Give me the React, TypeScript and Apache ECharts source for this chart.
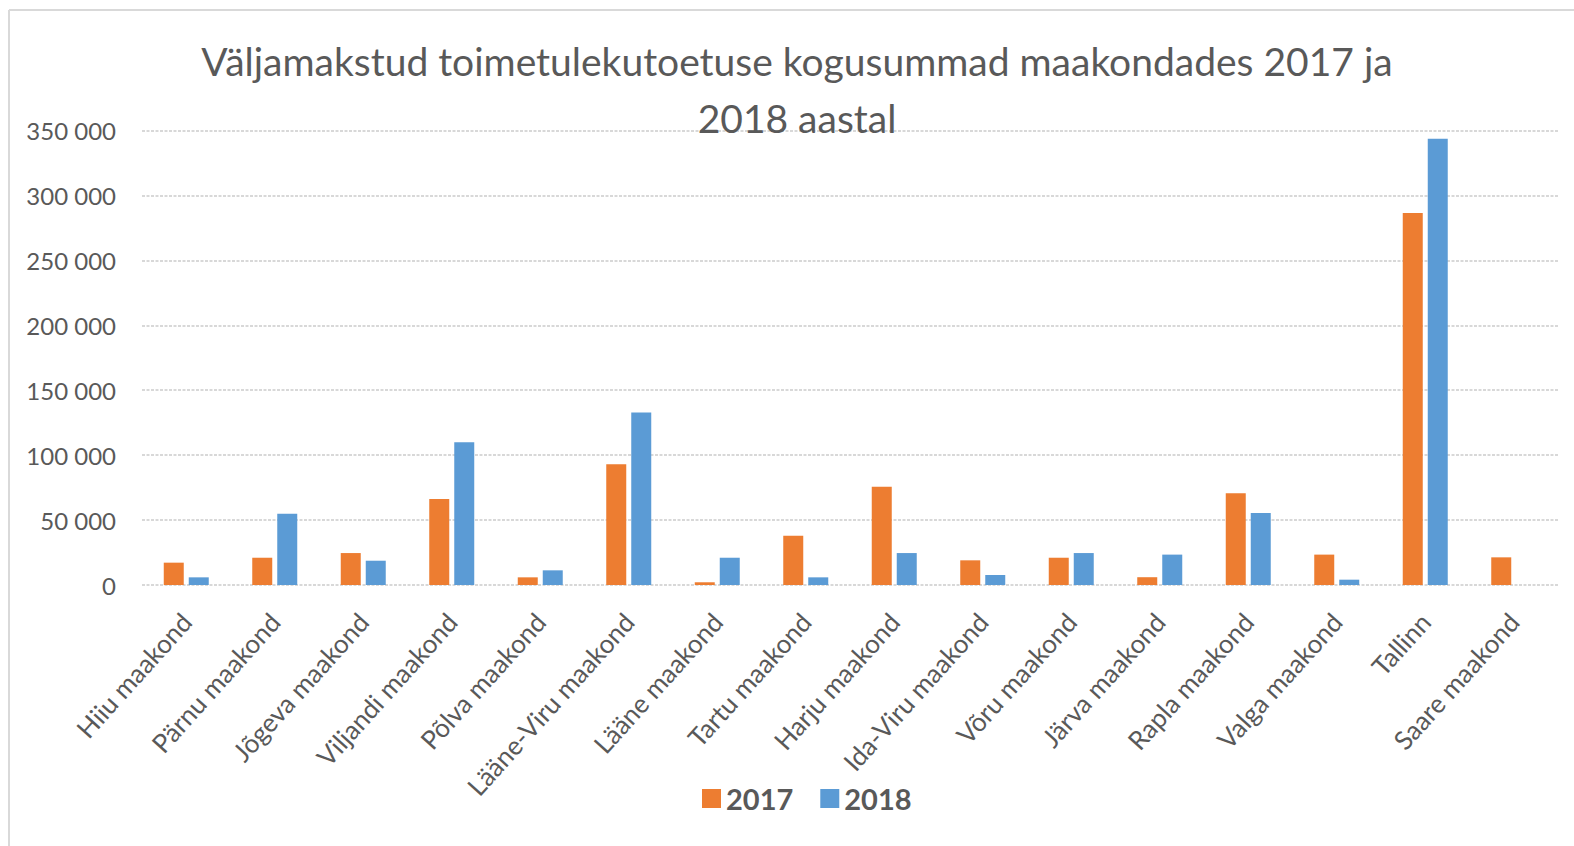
import React, { useEffect, useRef } from "react";
import * as echarts from "echarts";

const titleLines = [
  "Väljamakstud toimetulekutoetuse kogusummad maakondades 2017 ja",
  "2018 aastal",
];

const categories = [
  "Hiiu maakond",
  "Pärnu maakond",
  "Jõgeva maakond",
  "Viljandi maakond",
  "Põlva maakond",
  "Lääne-Viru maakond",
  "Lääne maakond",
  "Tartu maakond",
  "Harju maakond",
  "Ida-Viru maakond",
  "Võru maakond",
  "Järva maakond",
  "Rapla maakond",
  "Valga maakond",
  "Tallinn",
  "Saare maakond",
];

const values2017 = [
  17200, 21000, 24600, 66200, 5900, 92900, 2100, 38000, 75700, 19000, 21000,
  6000, 70600, 23400, 286500, 21300,
];

const values2018 = [
  5900, 54900, 18700, 109900, 11300, 132800, 21000, 5900, 24600, 7700, 24600,
  23400, 55400, 4100, 343700, null,
];

const seriesNames = ["2017", "2018"];
const seriesColors = ["#ED7D31", "#5B9BD5"];

const yMin = 0;
const yMax = 350000;
const yInterval = 50000;

const FONT = "Lato, 'Open Sans', 'Noto Sans', sans-serif";
const TEXT_COLOR = "#595959";

function fmt(v: number): string {
  return String(v).replace(/\B(?=(\d{3})+(?!\d))/g, " ");
}

export default function App() {
  const ref = useRef<HTMLDivElement>(null);

  useEffect(() => {
    if (!ref.current) return;
    const chart = echarts.init(ref.current, null, { renderer: "svg" });
    chart.setOption({
      animation: false,
      backgroundColor: "#ffffff",
      title: {
        text: titleLines.join("\n"),
        left: 797,
        textAlign: "center",
        top: 32,
        padding: 0,
        textStyle: {
          fontFamily: FONT,
          fontSize: 39,
          fontWeight: "normal",
          color: TEXT_COLOR,
          lineHeight: 57,
        },
      },
      legend: {
        left: 697,
        top: 779,
        itemWidth: 19,
        itemHeight: 19,
        itemGap: 27,
        icon: "rect",
        data: seriesNames,
        textStyle: {
          fontFamily: FONT,
          fontSize: 29,
          fontWeight: "bold",
          color: TEXT_COLOR,
        },
      },
      grid: {
        left: 142,
        right: 16,
        top: 130.5,
        bottom: 261,
        containLabel: false,
      },
      xAxis: {
        type: "category",
        data: categories,
        axisLine: { show: false },
        axisTick: { show: false },
        axisLabel: {
          rotate: 48,
          interval: 0,
          margin: 32,
          fontFamily: FONT,
          fontSize: 26,
          color: TEXT_COLOR,
        },
      },
      yAxis: {
        type: "value",
        min: yMin,
        max: yMax,
        interval: yInterval,
        axisLine: { show: false },
        axisTick: { show: false },
        axisLabel: {
          margin: 26,
          fontFamily: FONT,
          fontSize: 24,
          color: TEXT_COLOR,
          formatter: (v: number) => fmt(v),
        },
        splitLine: {
          lineStyle: { color: "#cccccc", width: 1.5, type: [3, 1.5] },
        },
      },
      series: seriesNames.map((name, i) => ({
        name,
        type: "bar",
        data: i === 0 ? values2017 : values2018,
        barWidth: 20,
        barGap: "25%",
        itemStyle: { color: seriesColors[i] },
      })),
      graphic: [
        {
          type: "line",
          shape: { x1: 9, y1: 10, x2: 1574, y2: 10 },
          style: { stroke: "#d9d9d9", lineWidth: 2 },
        },
        {
          type: "line",
          shape: { x1: 9, y1: 10, x2: 9, y2: 846 },
          style: { stroke: "#d9d9d9", lineWidth: 2 },
        },
      ],
    });
    return () => chart.dispose();
  }, []);

  return (
    <div
      ref={ref}
      style={{
        position: "fixed",
        left: 0,
        top: 0,
        width: 1574,
        height: 846,
        background: "#fff",
      }}
    />
  );
}
